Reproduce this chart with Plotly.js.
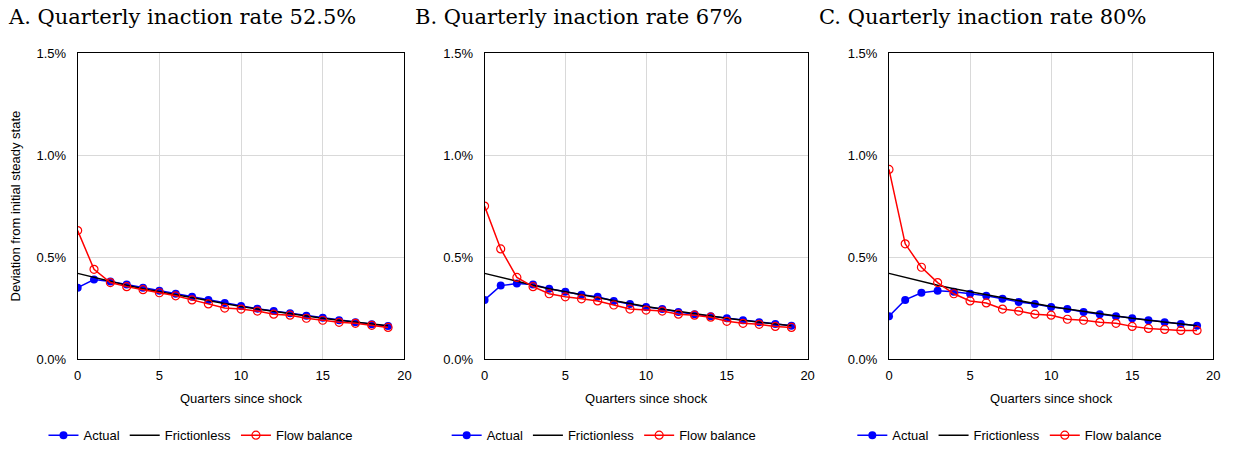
<!DOCTYPE html>
<html><head><script src="https://cdn.plot.ly/plotly-3.0.1.min.js"></script>
<style>body{margin:0}</style></head><body><div id="g" style="width:1233px;height:451px"></div>
<script>
const quarters=[0,1,2,3,4,5,6,7,8,9,10,11,12,13,14,15,16,17,18,19];
const frictionless=[0.42,0.40,0.38,0.362,0.345,0.33,0.315,0.30,0.285,0.27,0.257,0.245,0.233,0.222,0.211,0.20,0.19,0.18,0.172,0.163];
const actualA=[0.35,0.39,0.38,0.365,0.35,0.335,0.32,0.305,0.29,0.275,0.26,0.247,0.235,0.224,0.212,0.202,0.19,0.18,0.171,0.162];
const flowA=[0.63,0.44,0.375,0.355,0.34,0.325,0.31,0.29,0.27,0.25,0.245,0.235,0.22,0.215,0.2,0.19,0.18,0.175,0.165,0.155];
const actualB=[0.29,0.36,0.37,0.365,0.345,0.33,0.315,0.305,0.285,0.27,0.255,0.245,0.23,0.22,0.21,0.20,0.19,0.18,0.172,0.163];
const flowB=[0.75,0.54,0.40,0.355,0.32,0.305,0.295,0.285,0.265,0.245,0.24,0.235,0.22,0.215,0.205,0.185,0.175,0.17,0.16,0.155];
const actualC=[0.21,0.29,0.325,0.335,0.33,0.32,0.31,0.295,0.28,0.27,0.255,0.245,0.23,0.22,0.21,0.20,0.19,0.18,0.172,0.163];
const flowC=[0.93,0.565,0.45,0.375,0.32,0.285,0.275,0.245,0.235,0.22,0.215,0.195,0.19,0.18,0.175,0.16,0.15,0.145,0.14,0.14];
const titles=["A. Quarterly inaction rate 52.5%","B. Quarterly inaction rate 67%","C. Quarterly inaction rate 80%"];
const panels=[[actualA,flowA],[actualB,flowB],[actualC,flowC]];
const xd=[[0.063,0.328],[0.393,0.655],[0.721,0.984]];
const legX=[0.163,0.49,0.819];
const traces=[],layout={width:1233,height:451,margin:{l:0,r:0,t:0,b:0},paper_bgcolor:'white',plot_bgcolor:'white',
 font:{family:'Arial, Liberation Sans',size:13,color:'#000'},annotations:[],showlegend:true};
panels.forEach((p,i)=>{
 const s=i?String(i+1):'';
 const xa='x'+s, ya='y'+s, lg='legend'+s;
 const toPct=a=>a.map(v=>v/100);
 traces.push({x:quarters,y:toPct(p[0]),xaxis:xa,yaxis:ya,legend:lg,name:'Actual',mode:'lines+markers',line:{color:'#0000ff',width:1.5},marker:{size:8,color:'#0000ff'}});
 traces.push({x:quarters,y:toPct(frictionless),xaxis:xa,yaxis:ya,legend:lg,name:'Frictionless',mode:'lines',line:{color:'#000',width:1.5}});
 traces.push({x:quarters,y:toPct(p[1]),xaxis:xa,yaxis:ya,legend:lg,name:'Flow balance',mode:'lines+markers',line:{color:'#ff0000',width:1.5},marker:{size:8,symbol:'circle-open',color:'#ff0000',line:{width:1.2}}});
 layout['xaxis'+s]={domain:xd[i],anchor:ya,range:[0,20],dtick:5,showgrid:true,gridcolor:'#d9d9d9',showline:true,linecolor:'#000',mirror:true,ticks:'',zeroline:false,ticklabelstandoff:4,
  title:{text:'Quarters since shock',font:{size:13},standoff:12},tickfont:{size:13}};
 layout['yaxis'+s]={domain:[0.204,0.882],anchor:xa,range:[0,0.015],dtick:0.005,tickformat:'.1%',showgrid:true,gridcolor:'#d9d9d9',showline:true,linecolor:'#000',mirror:true,ticks:'',zeroline:false,tickfont:{size:13},ticklabelstandoff:8,
  title:i==0?{text:'Deviation from initial steady state',font:{size:13},standoff:12}:undefined};
 layout[lg]={orientation:'h',x:legX[i],xanchor:'center',y:0.035,yanchor:'middle',font:{size:13},bgcolor:'rgba(0,0,0,0)',itemwidth:30};
 layout.annotations.push({text:titles[i],xref:'paper',yref:'paper',x:xd[i][0]-0.058,xanchor:'left',y:0.962,yanchor:'middle',showarrow:false,font:{family:'DejaVu Serif, Liberation Serif',size:21}});
});
Plotly.newPlot('g',traces,layout,{displayModeBar:false});
</script></body></html>
